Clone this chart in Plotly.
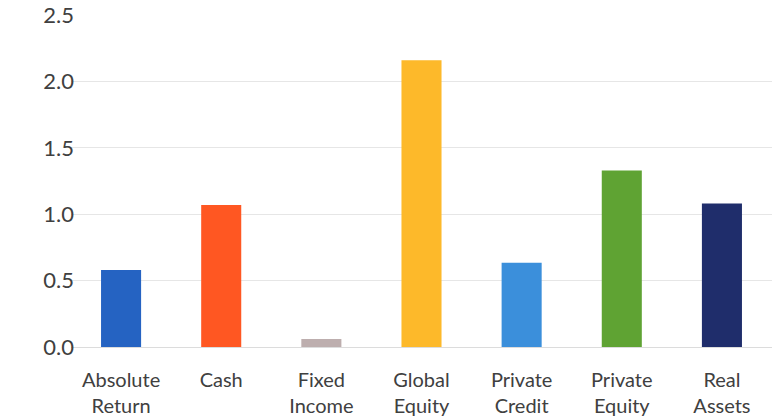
import plotly.graph_objects as go

# Asset classes and their values
categories = ["Absolute<br>Return", "Cash", "Fixed<br>Income", "Global<br>Equity",
              "Private<br>Credit", "Private<br>Equity", "Real<br>Assets"]
values = [0.58, 1.07, 0.06, 2.16, 0.635, 1.33, 1.08]
bar_colors = ["#2563c2", "#ff5722", "#bdaeae", "#fdb92a",
              "#3b8fdb", "#5fa333", "#1f2d6b"]
y_ticks = [0.0, 0.5, 1.0, 1.5, 2.0, 2.5]
y_tick_labels = ["0.0", "0.5", "1.0", "1.5", "2.0", "2.5"]

fig = go.Figure(
    go.Bar(x=categories, y=values, marker=dict(color=bar_colors, line=dict(width=0)))
)

font_family = "Lato, 'Open Sans', sans-serif"

fig.update_layout(
    width=772,
    height=420,
    margin=dict(l=71, r=0, t=15, b=73),
    paper_bgcolor="white",
    plot_bgcolor="white",
    bargap=0.6,
    showlegend=False,
    font=dict(family=font_family, size=20, color="#404040"),
)
fig.update_xaxes(
    showgrid=False,
    showline=False,
    ticks="",
    tickfont=dict(size=20, color="#404040"),
    ticklabelstandoff=19,
)
fig.update_yaxes(
    range=[0, 2.5],
    tickvals=y_ticks,
    ticktext=y_tick_labels,
    showgrid=True,
    gridcolor="#e6e6e6",
    gridwidth=1,
    zeroline=True,
    zerolinecolor="#dcdcdc",
    zerolinewidth=1,
    showline=False,
    ticks="",
    tickfont=dict(size=22, color="#404040"),
    ticklabelstandoff=-4,
    automargin=False,
)

fig.write_html("out.html")
